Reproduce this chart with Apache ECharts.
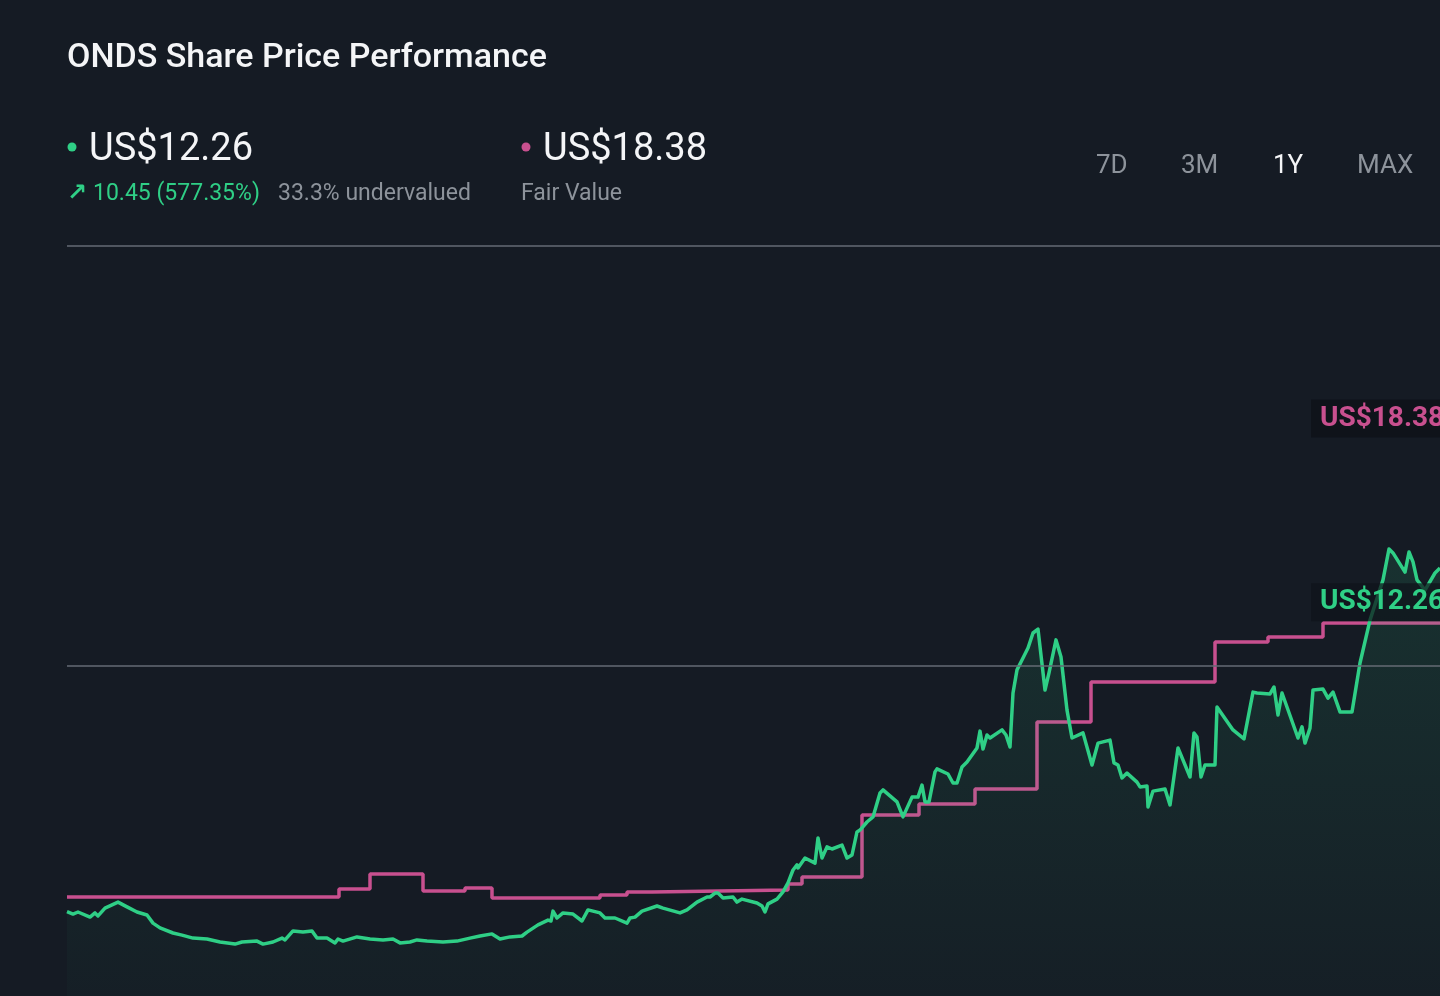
<!DOCTYPE html>
<html>
<head>
<meta charset="utf-8">
<script src="https://cdn.jsdelivr.net/npm/echarts@6/dist/echarts.min.js"></script>
<style>
html,body{margin:0;padding:0;background:#151b24;}
#chart{width:1440px;height:996px;}
</style>
</head>
<body>
<div id="chart"></div>
<script>
// ---- data ----
const ticker = 'ONDS';
const lastPrice = 12.26;
const startPrice = 1.81;
const fairValue = 18.38;
const rangeButtons = ['7D', '3M', '1Y', 'MAX'];
const activeRange = '1Y';
const gridLevels = [10, 24];

// share price: day offset and price (US$)
const priceDays = [0,1.5,2.75,5.75,7,7.75,9.5,12.75,15,17.5,20,21.5,23.25,26.5,28.75,31.5,35,38.25,42,43.75,47.5,49,51.5,53.75,54.5,56.5,59,61.25,62.5,65,67,67.75,69,72.5,75.75,79,81.5,83.25,85.75,87.5,90,94,97.5,100.75,103.25,106.25,108.25,110.75,113.75,115,117.75,120.25,121,121.5,122.5,124,126.5,128.75,130.25,133.25,134.5,137,140,140.75,142,143.75,147.5,149,153.25,155,157.5,160,160.75,162,162.75,164,166.5,167.5,168.75,172.5,173.75,174.5,175.25,177.5,179,180.25,181.5,182.5,182.75,184.5,187,187.75,188.75,190,191.25,193.75,195,196.25,197.5,198.25,200,201.5,203.25,204,207.5,209,211.25,212.75,213.75,214.5,215.5,217,217.5,220.25,221.5,222.5,223.75,225,227.5,228.25,229,230,230.75,233.75,234.75,235.75,236.5,237.5,238.75,240.25,241.5,242.75,244.5,245.5,247.25,248.5,250,251.25,254,256.25,257.75,260.75,261.75,262.75,263.75,265,267.5,268.25,270,270.25,271.5,274.5,275.75,277.75,280.75,281.75,282.5,283.5,284.5,287,287.5,291.5,294.25,296.5,297.5,300.75,301.75,302.75,303.75,307.75,308.75,309.5,310.75,311.5,314,315.25,316.5,318.25,321.25,323.25,325.75,329,330.5,331.5,334.5,335.5,336.5,337.5,339.5,342,343.25];
const priceValues = [1.81,1.73,1.80,1.63,1.77,1.67,1.93,2.13,1.97,1.80,1.70,1.43,1.27,1.10,1.03,0.93,0.90,0.80,0.73,0.80,0.83,0.73,0.80,0.93,0.87,1.17,1.13,1.17,0.93,0.93,0.77,0.90,0.83,0.97,0.90,0.87,0.90,0.77,0.80,0.87,0.83,0.80,0.83,0.93,1.00,1.07,0.90,0.97,1.00,1.13,1.37,1.53,1.50,1.83,1.60,1.77,1.73,1.50,1.87,1.77,1.60,1.60,1.43,1.60,1.63,1.83,2.00,1.93,1.77,1.87,2.13,2.30,2.30,2.43,2.43,2.27,2.30,2.13,2.23,2.10,2.00,1.80,2.07,2.23,2.47,2.77,3.20,3.37,3.27,3.60,3.43,4.27,3.60,3.97,3.90,4.03,3.60,3.70,4.47,4.53,4.80,4.97,5.77,5.87,5.47,4.97,5.63,5.63,6.03,5.47,5.47,6.47,6.57,6.40,6.10,6.10,6.63,6.80,7.27,7.83,7.23,7.70,7.60,7.87,7.70,7.30,9.10,9.87,10.20,10.60,11.10,11.23,9.20,9.77,10.87,10.30,8.53,7.60,7.77,6.70,7.43,7.53,6.77,6.70,6.27,6.43,6.13,5.97,6.00,5.30,5.83,5.90,5.37,7.27,6.30,7.77,7.63,6.30,6.70,6.70,8.63,7.87,7.57,9.13,9.10,9.07,9.30,8.37,9.10,7.60,7.97,7.43,7.93,9.20,9.23,8.93,9.13,8.47,8.47,10.10,11.53,12.87,13.90,13.77,13.13,13.80,13.47,12.87,12.53,13.10,13.27];

// fair value estimate: day it changed and new value (US$)
const fairDays = [0,68,75.75,89,99.5,106.25,133.25,140,146.25,180.25,183.75,198.75,213,227,242.5,256,287,300.25,314,343.25];
const fairValues = [2.30,2.57,3.07,2.50,2.60,2.27,2.37,2.47,2.53,2.73,2.97,5.03,5.40,5.90,8.13,9.47,10.80,10.97,11.43,11.43];

// ---- styles ----
const GREEN = '#2fcf86';
const PINK = '#c8508f';
const GREY = '#8d939b';
const WHITE = '#f4f5f7';
const FONT = 'Roboto, "Noto Sans", sans-serif';

const priceData = priceDays.map((d, i) => [d, priceValues[i]]);
const fairData = fairDays.map((d, i) => [d, fairValues[i]]);

const change = lastPrice - startPrice;
const pct = change / startPrice * 100;
const underv = (1 - lastPrice / fairValue) * 100;

const chart = echarts.init(document.getElementById('chart'));

const btnX = [1096, 1181, 1273, 1357];

const graphics = [
  { type: 'text', x: 67, y: 58, style: { text: ticker + ' Share Price Performance', fill: WHITE, font: '500 34px ' + FONT, verticalAlign: 'middle' } },
  { type: 'circle', shape: { cx: 72, cy: 147, r: 4.5 }, style: { fill: GREEN } },
  { type: 'text', x: 89, y: 150, style: { text: 'US$' + lastPrice.toFixed(2), fill: WHITE, font: '38px ' + FONT, verticalAlign: 'middle' } },
  { type: 'text', x: 67, y: 194, style: { text: '↗', fill: GREEN, font: 'bold 24px "DejaVu Sans", sans-serif', verticalAlign: 'middle' } },
  { type: 'text', x: 93, y: 194, style: { text: change.toFixed(2) + ' (' + pct.toFixed(2) + '%)', fill: GREEN, font: '23px ' + FONT, verticalAlign: 'middle' } },
  { type: 'text', x: 278, y: 194, style: { text: underv.toFixed(1) + '% undervalued', fill: GREY, font: '23px ' + FONT, verticalAlign: 'middle' } },
  { type: 'circle', shape: { cx: 526, cy: 147, r: 4.5 }, style: { fill: PINK } },
  { type: 'text', x: 543, y: 150, style: { text: 'US$' + fairValue.toFixed(2), fill: WHITE, font: '38px ' + FONT, verticalAlign: 'middle' } },
  { type: 'text', x: 521, y: 194, style: { text: 'Fair Value', fill: GREY, font: '23px ' + FONT, verticalAlign: 'middle' } }
];
rangeButtons.forEach((b, i) => {
  graphics.push({ type: 'text', x: btnX[i], y: 166, style: { text: b, fill: b === activeRange ? WHITE : GREY, font: '26px ' + FONT, verticalAlign: 'middle' } });
});

const option = {
  backgroundColor: '#151b24',
  animation: false,
  grid: { left: 67, right: 0, top: 246, bottom: 0, containLabel: false },
  xAxis: { type: 'value', min: 0, max: 343.25, show: false },
  yAxis: { type: 'value', min: -1, max: 24, show: false, splitLine: { show: false } },
  graphic: graphics,
  series: [
    {
      name: 'Fair Value',
      type: 'line',
      step: 'end',
      data: fairData,
      showSymbol: false,
      lineStyle: { color: PINK, width: 3.5 },
      z: 2,
      markPoint: {
        symbol: 'rect', symbolSize: 0, silent: true,
        data: [{ coord: [311, fairValue], value: fairValue }],
        label: {
          show: true, position: 'right', distance: 0, offset: [0, 4],
          formatter: () => 'US$' + fairValue.toFixed(2),
          color: PINK, fontFamily: 'Roboto', fontWeight: 'bold', fontSize: 28,
          backgroundColor: '#0f131a', padding: [6, 9, 4, 9]
        }
      }
    },
    {
      name: 'Share Price',
      type: 'line',
      data: priceData,
      showSymbol: false,
      lineStyle: { color: GREEN, width: 3.5, join: 'round' },
      areaStyle: {
        origin: 'start',
        color: new echarts.graphic.LinearGradient(0, 0, 0, 1, [
          { offset: 0, color: 'rgba(47,207,134,0.18)' },
          { offset: 1, color: 'rgba(47,207,134,0.03)' }
        ])
      },
      z: 3,
      markLine: {
        silent: true, symbol: 'none', label: { show: false },
        lineStyle: { color: '#646b74', width: 1.5, type: 'solid' },
        data: gridLevels.map(v => ({ yAxis: v }))
      },
      markPoint: {
        symbol: 'rect', symbolSize: 0, silent: true,
        data: [{ coord: [311, lastPrice], value: lastPrice }],
        label: {
          show: true, position: 'right', distance: 0, offset: [0, 4],
          formatter: () => 'US$' + lastPrice.toFixed(2),
          color: GREEN, fontFamily: 'Roboto', fontWeight: 'bold', fontSize: 28,
          backgroundColor: 'rgba(15,19,26,0.72)', padding: [6, 9, 4, 9]
        }
      }
    }
  ]
};
chart.setOption(option);
</script>
</body>
</html>
